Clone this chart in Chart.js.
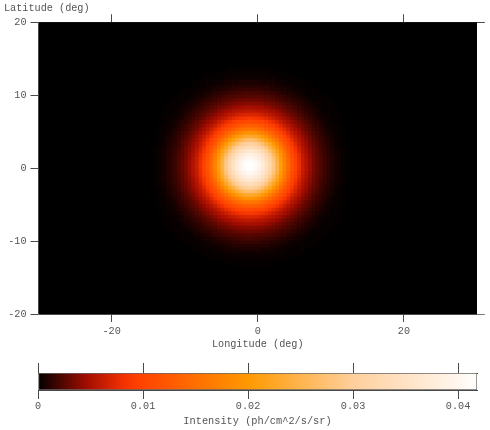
<!DOCTYPE html>
<html><head><meta charset="utf-8">
<style>html,body{margin:0;padding:0;background:#fff;width:490px;height:430px;overflow:hidden}
canvas{position:absolute;left:0;display:block}#map{top:0}#bar{top:350px}</style>
<script src="https://cdn.jsdelivr.net/npm/chart.js@4"></script></head><body>
<canvas id="map" width="490" height="350"></canvas><canvas id="bar" width="490" height="80"></canvas>
<script>
const lonTicks=[-20,0,20];
const latTicks=[-20,-10,0,10,20];
const intensityTicks=[0,0.01,0.02,0.03,0.04];
const intensityMax=0.0418;
const lonRange=[-30,30];
const latRange=[-20,20];
const peakLon=-1, peakLat=0.25, cellDeg=0.5, intensityUnit=1e-4;
// Estimated intensity (x 1e-4) for one quadrant about the peak;
// rows step away in latitude, columns step away in longitude, each by one 0.5 degree cell.
const quadrant=[
[419,412,397,376,351,320,288,246,210,175,146,119,98,79,63,53,44,34,28,22,17,13,10,6,4,2,1],
[415,408,393,373,348,317,285,244,208,173,144,118,97,78,62,53,44,34,28,22,17,13,10,6,4,2,1],
[404,398,383,363,339,309,278,238,202,168,140,114,96,76,62,52,43,33,27,22,17,13,10,6,4,2,1],
[387,380,366,347,324,295,262,227,194,162,133,109,91,74,59,50,41,32,26,21,16,12,10,6,4,2,1],
[363,357,344,326,304,272,243,213,182,152,125,103,85,69,56,47,39,31,25,20,16,12,8,6,4,2,1],
[335,330,318,301,281,249,223,193,165,138,116,97,79,65,53,45,37,30,24,18,15,12,8,4,4,2,1],
[304,299,288,269,246,225,199,175,148,125,105,89,72,60,50,43,34,28,23,17,13,10,8,4,2,1],
[271,266,248,236,216,197,173,152,132,111,95,79,66,56,47,39,32,26,21,16,12,10,6,4,2,1],
[230,226,217,201,188,168,150,132,115,98,84,70,61,52,43,35,29,23,18,15,12,8,6,4,2,1],
[193,190,179,169,158,143,129,113,98,87,73,62,53,46,38,32,26,21,17,13,10,6,4,2,2,1],
[159,157,150,142,132,120,109,96,85,74,64,55,48,41,33,28,23,18,15,12,8,6,4,2,2,1],
[131,129,124,118,109,100,93,82,72,63,55,49,42,35,30,25,21,16,13,10,6,4,4,2,2,1],
[107,105,101,98,92,84,76,68,61,53,48,42,36,31,26,22,17,13,12,8,6,4,2,2,1],
[88,86,84,79,75,69,63,58,52,47,42,36,31,26,22,18,15,12,8,6,4,4,2,2,1],
[70,70,68,64,61,58,53,49,45,39,34,30,26,22,18,16,12,10,6,4,4,2,2,2,1],
[58,57,55,54,52,48,46,41,37,32,29,25,22,18,16,13,10,8,6,4,2,2,2,1],
[49,48,47,45,43,40,36,33,31,27,24,21,18,15,13,10,8,6,4,2,2,2,2,1],
[39,38,37,36,34,32,30,27,25,22,20,17,15,12,10,8,6,4,4,2,2,2,1],
[31,31,30,29,27,26,24,22,20,17,16,13,12,10,8,6,4,2,2,2,2,1],
[25,24,24,23,22,21,20,17,16,15,12,10,8,6,6,4,2,2,2,2,1],
[20,20,18,18,17,16,15,13,12,10,8,8,6,4,4,2,2,2,2,1],
[15,15,15,13,13,12,10,10,8,8,6,4,4,4,2,2,2,2,1],
[10,10,10,10,10,8,8,6,6,4,4,4,2,2,2,2,1],
[8,8,8,6,6,6,6,4,4,4,2,2,2,2,2,1],
[4,4,4,4,4,4,4,2,2,2,2,2,2,1],
[3,3,3,3,3,2,2,2,2,2,1,1],
[2,2,2,2,2,2,1,1,1],
[1,1,1,1,1,1]
];
const colorStops=[0,0.0045,0.008,0.0095,0.02,0.03,0.04,0.0418];
const colorValues=['#000000','#9e0c00','#f03000','#ff4000','#ff9900','#ffcf9c','#fff6ee','#ffffff'];

const hexRgb=h=>[1,3,5].map(k=>parseInt(h.slice(k,k+2),16));
function colorFor(v){
  let k=0; while(k<colorStops.length-2&&v>colorStops[k+1])k++;
  const t=Math.min(1,(v-colorStops[k])/(colorStops[k+1]-colorStops[k]));
  const a=hexRgb(colorValues[k]),b=hexRgb(colorValues[k+1]);
  return 'rgb('+a.map((c,n)=>Math.round(c+(b[n]-c)*t)).join(',')+')';
}
const cells=[];
quadrant.forEach((row,j)=>row.forEach((val,i)=>{
  const dx=(i+0.5)*cellDeg, dy=j*cellDeg, v=val*intensityUnit;
  (j?[1,-1]:[1]).forEach(sy=>[1,-1].forEach(sx=>cells.push({x:peakLon+sx*dx,y:peakLat+sy*dy,v})));
}));
cells.sort((p,q)=>p.x-q.x||q.y-p.y);

const FONT={family:'"Liberation Mono",monospace',size:10.2,weight:'normal'};
const TEXT='#555', LINE='#4a4a4a';
const sized=(h)=>s=>{s.height=h};
const gridOpt={color:LINE,tickColor:LINE,drawOnChartArea:false,tickLength:8,lineWidth:1};

const plotBackground={id:'plotBackground',beforeDatasetsDraw(c){
  const {x,y}=c.scales,g=c.ctx;
  g.save();g.fillStyle='#000';
  g.fillRect(x.getPixelForValue(lonRange[0]),y.getPixelForValue(latRange[1]),
    x.getPixelForValue(lonRange[1])-x.getPixelForValue(lonRange[0]),
    y.getPixelForValue(latRange[0])-y.getPixelForValue(latRange[1]));
  g.restore();
}};
const frameExtension={id:'frameExtension',afterDraw(c){
  const {x,y}=c.scales,g=c.ctx,end=x.getPixelForValue(31.07);
  g.save();g.lineWidth=1;
  [[latRange[1],LINE],[latRange[0],'#777']].forEach(([lat,col])=>{
    const py=Math.round(y.getPixelForValue(lat))+0.5;
    g.strokeStyle=col;g.beginPath();g.moveTo(x.right,py);g.lineTo(end,py);g.stroke();
  });
  g.restore();
}};

new Chart(document.getElementById('map'),{
  type:'scatter',
  data:{datasets:[{data:cells,pointStyle:'rect',
    backgroundColor:cells.map(p=>colorFor(p.v)),
    borderColor:cells.map(p=>colorFor(p.v)),
    borderWidth:1.2,
    pointRadius:c=>{const s=c.chart.scales.x;return Math.abs(s.getPixelForValue(cellDeg)-s.getPixelForValue(0))*Math.SQRT1_2;},
    pointHoverRadius:0}]},
  plugins:[plotBackground,frameExtension],
  options:{responsive:false,animation:false,devicePixelRatio:1,events:[],
    layout:{padding:{left:4,top:0,right:13,bottom:0}},
    plugins:{legend:{display:false},tooltip:{enabled:false},
      title:{display:true,text:'Latitude (deg)',align:'start',color:TEXT,font:FONT,padding:{top:2,bottom:0}}},
    scales:{
      x:{type:'linear',position:'bottom',min:lonRange[0],max:lonRange[1],
        afterBuildTicks:s=>{s.ticks=lonTicks.map(value=>({value}))},afterFit:sized(36),
        grid:gridOpt,border:{color:LINE},
        ticks:{autoSkip:false,maxRotation:0,color:TEXT,font:FONT,padding:3,callback:v=>String(v)},
        title:{display:true,text:'Longitude (deg)',color:TEXT,font:FONT,padding:0}},
      xTop:{type:'linear',position:'top',axis:'x',min:lonRange[0],max:lonRange[1],
        afterBuildTicks:s=>{s.ticks=lonTicks.map(value=>({value}))},afterFit:sized(8),
        grid:gridOpt,border:{color:LINE},ticks:{display:false}},
      y:{type:'linear',position:'left',min:latRange[0],max:latRange[1],
        afterBuildTicks:s=>{s.ticks=latTicks.map(value=>({value}))},afterFit:s=>{s.width=34.5},
        grid:gridOpt,border:{color:'#888'},
        ticks:{autoSkip:false,color:TEXT,font:FONT,padding:4,callback:v=>String(v)}}
    }}
});

new Chart(document.getElementById('bar'),{
  type:'bar',
  data:{labels:['Intensity'],datasets:[{data:[[0,intensityMax]],barPercentage:1,categoryPercentage:1,
    borderWidth:1,borderColor:'#666',borderSkipped:false,
    backgroundColor:c=>{
      const s=c.chart.scales.x; if(!s)return '#000';
      const x0=s.getPixelForValue(0),x1=s.getPixelForValue(intensityMax);
      if(!isFinite(x0)||!isFinite(x1))return '#000';
      const g=c.chart.ctx.createLinearGradient(x0,0,x1,0);
      colorStops.forEach((v,k)=>g.addColorStop(v/intensityMax,colorValues[k]));
      return g;
    }}]},
  options:{indexAxis:'y',responsive:false,animation:false,devicePixelRatio:1,events:[],
    layout:{padding:{left:0,top:0,right:13,bottom:0}},
    plugins:{legend:{display:false},tooltip:{enabled:false}},
    scales:{
      x:{type:'linear',position:'bottom',min:0,max:intensityMax,
        afterBuildTicks:s=>{s.ticks=intensityTicks.map(value=>({value}))},afterFit:sized(40),
        grid:{...gridOpt,tickLength:9},border:{color:LINE},
        ticks:{autoSkip:false,maxRotation:0,color:TEXT,font:FONT,padding:1,callback:v=>String(v)},
        title:{display:true,text:'Intensity (ph/cm^2/s/sr)',color:TEXT,font:{...FONT,size:10.3},padding:{top:0,bottom:3}}},
      xTop:{type:'linear',position:'top',axis:'x',min:0,max:intensityMax,
        afterBuildTicks:s=>{s.ticks=intensityTicks.map(value=>({value}))},afterFit:sized(23),
        grid:{...gridOpt,tickLength:10},border:{color:LINE},ticks:{display:false}},
      y:{type:'category',position:'left',afterFit:s=>{s.width=38},
        grid:{display:false},border:{display:false},ticks:{display:false}}
    }}
});
</script></body></html>
